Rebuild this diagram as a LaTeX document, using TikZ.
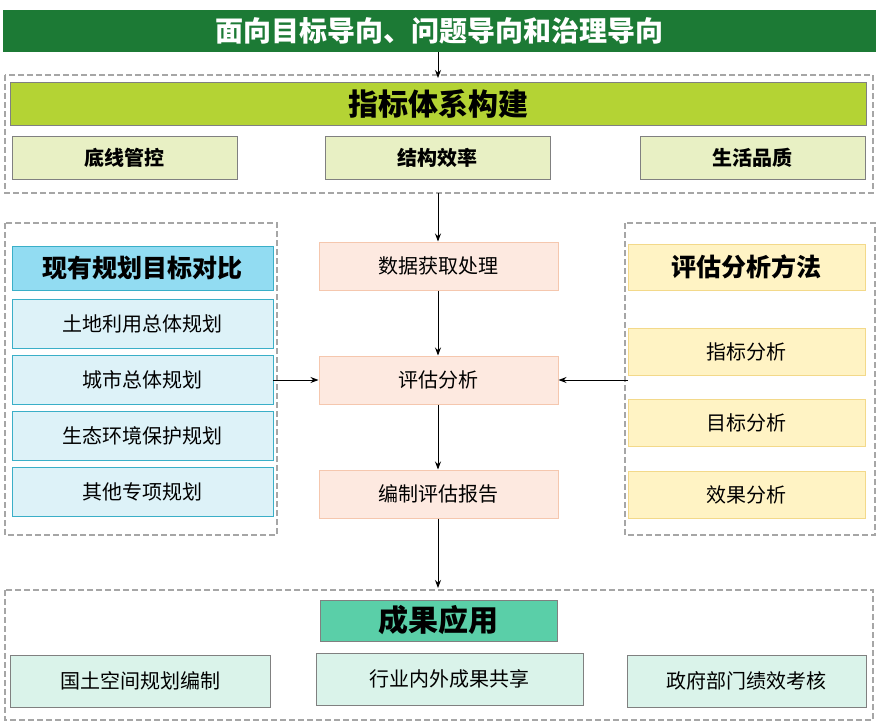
\documentclass[tikz,border=0pt]{standalone}
\usepackage{fontspec}
\setmainfont{Noto Sans CJK SC}
\usetikzlibrary{arrows.meta}
\definecolor{dg}{HTML}{1C7A35}
\definecolor{lime}{HTML}{B4D334}
\definecolor{limel}{HTML}{E8F0C4}
\definecolor{bl}{HTML}{92DCF2}
\definecolor{bll}{HTML}{DDF2F8}
\definecolor{blb}{HTML}{3AAFC8}
\definecolor{pe}{HTML}{FDE9E0}
\definecolor{peb}{HTML}{F5C7AE}
\definecolor{ye}{HTML}{FFF3C4}
\definecolor{yeb}{HTML}{F3D98A}
\definecolor{te}{HTML}{5ACFA8}
\definecolor{tel}{HTML}{DAF3EA}
\begin{document}
\begin{tikzpicture}[x=1pt,y=-1pt,
 bx/.style={draw,minimum width=#1,minimum height=46,inner sep=0pt,font=\fontsize{20}{22}\selectfont,line width=1pt},
 grp/.style={draw=gray!70,dashed,line width=2pt,dash pattern=on 6pt off 3pt},
 arr/.style={-{Stealth[length=8pt,width=6pt]},line width=1pt}]
\useasboundingbox[fill=white] (0,0) rectangle (879,724);
\node[fill=dg,minimum width=873,minimum height=42,inner sep=0,text=white,font=\fontsize{28}{30}\selectfont\bfseries] (top) at (439.5,31) {面向目标导向、问题导向和治理导向};
\draw[grp] (5,75) rectangle (873,193);
\draw[grp] (5,223) rectangle (277,535);
\draw[grp] (625,223) rectangle (875,535);
\draw[grp] (5,590) rectangle (873,720);
\node[fill=lime,draw=gray,minimum width=856,minimum height=43,inner sep=0,font=\fontsize{30}{32}\selectfont\bfseries] (zb) at (438,103.5) {指标体系构建};
\node[bx=225,fill=limel,draw=gray,minimum height=43,font=\fontsize{20}{22}\selectfont\bfseries] (a1) at (124.5,157.5) {底线管控};
\node[bx=225,fill=limel,draw=gray,minimum height=43,font=\fontsize{20}{22}\selectfont\bfseries] (a2) at (437.5,157.5) {结构效率};
\node[bx=225,fill=limel,draw=gray,minimum height=43,font=\fontsize{20}{22}\selectfont\bfseries] (a3) at (752.5,157.5) {生活品质};
\node[bx=261,fill=bl,draw=blb,minimum height=44,font=\fontsize{25}{27}\selectfont\bfseries] (l0) at (142.5,268) {现有规划目标对比};
\node[bx=261,fill=bll,draw=blb,minimum height=49] (l1) at (142.5,323.5) {土地利用总体规划};
\node[bx=261,fill=bll,draw=blb,minimum height=49] (l2) at (142.5,379.5) {城市总体规划};
\node[bx=261,fill=bll,draw=blb,minimum height=49] (l3) at (142.5,435.5) {生态环境保护规划};
\node[bx=261,fill=bll,draw=blb,minimum height=49] (l4) at (142.5,491.5) {其他专项规划};
\node[bx=239,fill=pe,draw=peb,minimum height=48] (c1) at (438.5,266) {数据获取处理};
\node[bx=239,fill=pe,draw=peb,minimum height=48] (c2) at (438.5,380) {评估分析};
\node[bx=239,fill=pe,draw=peb,minimum height=48] (c3) at (438.5,494) {编制评估报告};
\node[bx=237,fill=ye,draw=yeb,minimum height=46,font=\fontsize{25}{27}\selectfont\bfseries] (r0) at (746.5,267) {评估分析方法};
\node[bx=237,fill=ye,draw=yeb,minimum height=47] (r1) at (746.5,351.5) {指标分析};
\node[bx=237,fill=ye,draw=yeb,minimum height=47] (r2) at (746.5,422.5) {目标分析};
\node[bx=237,fill=ye,draw=yeb,minimum height=47] (r3) at (746.5,494.5) {效果分析};
\node[bx=237,fill=te,draw=gray,minimum height=41,font=\fontsize{30}{32}\selectfont\bfseries] (b0) at (438.5,620.5) {成果应用};
\node[bx=260,fill=tel,draw=gray,minimum height=52] (b1) at (140,681) {国土空间规划编制};
\node[bx=267,fill=tel,draw=gray,minimum height=52] (b2) at (449.5,679) {行业内外成果共享};
\node[bx=239,fill=tel,draw=gray,minimum height=52] (b3) at (746.5,681) {政府部门绩效考核};
\coordinate (t1) at (438,78);
\coordinate (g1) at (438,193);
\coordinate (g2) at (438,588);
\coordinate (lr) at (273,380);
\coordinate (rl) at (628,380);
\draw[arr] (top.south -| t1) -- (t1);
\draw[arr] (g1) -- (c1.north -| g1);
\draw[arr] (c1.south -| g1) -- (c2.north -| g1);
\draw[arr] (c2.south -| g1) -- (c3.north -| g1);
\draw[arr] (c3.south -| g1) -- (g2);
\draw[arr] (lr) -- (c2.west);
\draw[arr] (rl) -- (c2.east);
\end{tikzpicture}
\end{document}
